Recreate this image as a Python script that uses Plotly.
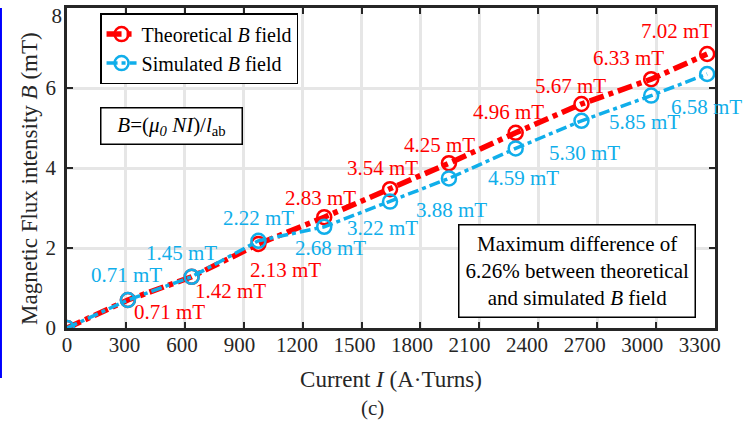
import plotly.graph_objects as go

# ---------------- data ----------------
current = [0, 310, 635, 975, 1310, 1645, 1945, 2285, 2620, 2975, 3260]
b_theory = [0, 0.70, 1.28, 2.10, 2.77, 3.47, 4.12, 4.88, 5.60, 6.22, 6.85]
b_sim = [0, 0.70, 1.28, 2.18, 2.53, 3.16, 3.74, 4.49, 5.18, 5.81, 6.35]
theory_labels = ["0.71", "1.42", "2.13", "2.83", "3.54", "4.25", "4.96", "5.67", "6.33", "7.02"]
sim_labels = ["0.71", "1.45", "2.22", "2.68", "3.22", "3.88", "4.59", "5.30", "5.85", "6.58"]
x_ticks = [0, 300, 600, 900, 1200, 1500, 1800, 2100, 2400, 2700, 3000, 3300]
y_ticks = [0, 2, 4, 6, 8]

# ---------------- style ----------------
RED = "#ff0000"
BLUE = "#10aeea"
AX = "#262626"
FONT = "Liberation Serif"
FS = 21
# label offsets (px) relative to their points: (dx right, dy down)
theory_off = [(42, 12), (39, 14), (27, 26), (-4, -19), (-8, -21), (-9, -18),
              (-7, -21), (-11, -18), (-23, -21), (-31, -23)]
sim_off = [(-1, -25), (-10, -24), (0, -23), (6, 21), (-8, 26), (3, 32),
           (8, 30), (3, 32), (-7, 26), (-1, 33)]

fig = go.Figure()
fig.add_trace(go.Scatter(
    x=current, y=b_theory, mode="lines+markers",
    name="Theoretical <i>B</i> field",
    line=dict(color=RED, width=5.5, dash="15px,5px,5px,5px"),
    marker=dict(symbol="circle-open", size=14, color=RED, line=dict(width=2.5, color=RED)),
))
fig.add_trace(go.Scatter(
    x=current, y=b_sim, mode="lines+markers",
    name="Simulated <i>B</i> field",
    line=dict(color=BLUE, width=3.5, dash="11px,4px,4px,4px"),
    marker=dict(symbol="circle-open", size=14, color=BLUE, line=dict(width=2.5, color=BLUE)),
))

annotations = []
for xv, yv, t, (dx, dy) in zip(current[1:], b_theory[1:], theory_labels, theory_off):
    annotations.append(dict(x=xv, y=yv, xref="x", yref="y", text=f"{t} mT", showarrow=False,
                            xanchor="center", yanchor="middle",
                            xshift=dx, yshift=-dy, font=dict(family=FONT, size=FS, color=RED)))
for xv, yv, t, (dx, dy) in zip(current[1:], b_sim[1:], sim_labels, sim_off):
    annotations.append(dict(x=xv, y=yv, xref="x", yref="y", text=f"{t} mT", showarrow=False,
                            xanchor="center", yanchor="middle",
                            xshift=dx, yshift=-dy, font=dict(family=FONT, size=FS, color=BLUE)))

# formula box
annotations.append(dict(
    x=0.161, y=0.630, xref="paper", yref="paper", showarrow=False,
    xanchor="center", yanchor="middle", width=136, height=31,
    text="<i>B</i>=(<i>μ<sub>0</sub></i> <i>NI</i>)/<i>l</i><sub>ab</sub>",
    font=dict(family=FONT, size=FS, color="black"),
    bordercolor="black", borderwidth=1.5, borderpad=2, bgcolor="white"))
# max difference box
annotations.append(dict(
    x=0.787, y=0.178, xref="paper", yref="paper", showarrow=False,
    xanchor="center", yanchor="middle",
    text="Maximum difference of<br>6.26% between theoretical<br>and simulated <i>B</i> field",
    font=dict(family=FONT, size=FS, color="black"), align="center",
    bordercolor="black", borderwidth=1.5, borderpad=6, bgcolor="white"))
# y title
annotations.append(dict(
    x=-0.057, y=0.466, xref="paper", yref="paper", showarrow=False, textangle=-90,
    xanchor="center", yanchor="middle",
    text="Magnetic Flux intensity <i>B</i> (mT)",
    font=dict(family=FONT, size=23, color=AX)))
# caption
annotations.append(dict(
    x=0.472, y=-0.25, xref="paper", yref="paper", showarrow=False,
    xanchor="center", yanchor="middle",
    text="(c)", font=dict(family=FONT, size=FS, color=AX)))

fig.update_layout(
    width=755, height=423,
    margin=dict(l=67, r=40, t=8, b=95, autoexpand=False),
    plot_bgcolor="white", paper_bgcolor="white",
    font=dict(family=FONT, size=FS, color=AX),
    showlegend=True,
    legend=dict(x=0.051, y=0.984, xanchor="left", yanchor="top",
                bordercolor="black", borderwidth=1.5, bgcolor="white",
                font=dict(family=FONT, size=20, color="black"),
                tracegroupgap=0, itemwidth=30),
    annotations=annotations,
    shapes=[dict(type="line", xref="paper", yref="paper", x0=-0.1019, x1=-0.1019,
                 y0=-0.156, y1=1.0, line=dict(color="#0000ff", width=2))],
    xaxis=dict(range=[0, 3300], tickvals=x_ticks, showticklabels=False, automargin=False,
               ticks="inside", ticklen=6, tickwidth=2, tickcolor=AX,
               showline=True, linecolor=AX, linewidth=2.5, mirror="ticks",
               showgrid=True, gridcolor="#e6e6e6", gridwidth=2.5, zeroline=False,
               title=dict(text="Current <i>I</i> (A·Turns)", font=dict(family=FONT, size=23, color=AX),
                          standoff=42)),
    xaxis2=dict(range=[0, 3380], overlaying="x", anchor="y", side="bottom", automargin=False,
                tickvals=x_ticks, ticktext=[str(v) for v in x_ticks],
                ticks="", showline=False, showgrid=False, zeroline=False,
                tickfont=dict(family=FONT, size=FS, color=AX), ticklabelstandoff=2),
    yaxis=dict(range=[0, 8], tickvals=y_ticks, automargin=False,
               ticktext=[str(v) if v != y_ticks[-1] else "" for v in y_ticks],
               ticks="inside", ticklen=6, tickwidth=2, tickcolor=AX,
               showline=True, linecolor=AX, linewidth=2.5, mirror="ticks",
               showgrid=True, gridcolor="#e6e6e6", gridwidth=2.5, zeroline=False,
               tickfont=dict(family=FONT, size=FS, color=AX), ticklabelstandoff=4),
    yaxis2=dict(range=[0, 8], overlaying="y", anchor="x", side="left", automargin=False,
                tickvals=[y_ticks[-1]], ticktext=[str(y_ticks[-1])],
                ticks="", showline=False, showgrid=False, zeroline=False,
                tickfont=dict(family=FONT, size=FS, color=AX), ticklabelstandoff=4,
                ticklabelshift=8, ticklabeloverflow="allow"),
)
# invisible trace to activate the secondary label axes
fig.add_trace(go.Scatter(x=[0], y=[0], xaxis="x2", yaxis="y2", mode="markers",
                         marker=dict(opacity=0), showlegend=False, hoverinfo="skip"))

fig.write_html("out.html")
